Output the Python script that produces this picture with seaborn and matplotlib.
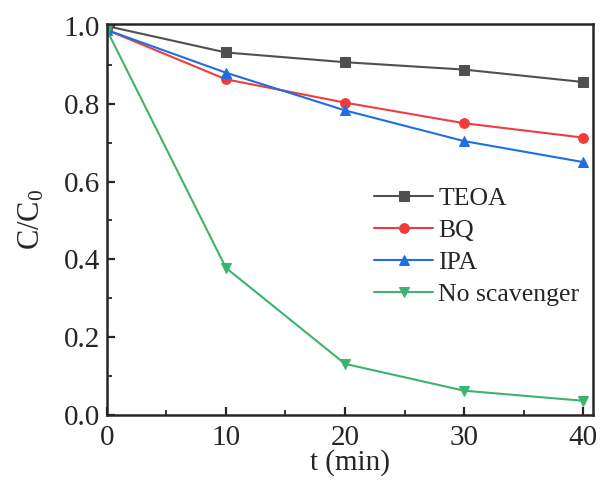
import matplotlib
matplotlib.use("Agg")
import matplotlib.pyplot as plt
import seaborn as sns
import pandas as pd
from matplotlib.ticker import MultipleLocator

t = [0, 10, 20, 30, 40]
teoa = [1.0, 0.932, 0.907, 0.888, 0.856]
bq = [0.99, 0.863, 0.803, 0.750, 0.713]
ipa = [0.99, 0.880, 0.783, 0.704, 0.650]
noscav = [0.99, 0.378, 0.131, 0.062, 0.036]
labels = ["TEOA", "BQ", "IPA", "No scavenger"]
colors = ["#505050", "#f03c3c", "#1f6fe0", "#3cb371"]
markers = ["s", "o", "^", "v"]

sns.set_style("ticks")
plt.rcParams["font.family"] = ["Liberation Serif", "DejaVu Serif"]
plt.rcParams["mathtext.fontset"] = "custom"
plt.rcParams["mathtext.rm"] = "Liberation Serif"
plt.rcParams["mathtext.it"] = "Liberation Serif:italic"

rows = []
for lab, vals in zip(labels, [teoa, bq, ipa, noscav]):
    for x, y in zip(t, vals):
        rows.append({"t": x, "c": y, "series": lab})
df = pd.DataFrame(rows)

fig = plt.figure(figsize=(6.0, 4.84), dpi=100)
ax = fig.add_axes([0.178, 0.143, 0.81, 0.808])
for lab, col, mk in zip(labels, colors, markers):
    d = df[df.series == lab]
    sns.lineplot(data=d, x="t", y="c", ax=ax, color=col, marker=mk, markersize=7,
                 markeredgecolor=col, linewidth=1.5, label=lab)

ax.set_xlim(0, 40.8)
ax.set_ylim(0, 1.006)
ax.xaxis.set_major_locator(MultipleLocator(10))
ax.xaxis.set_minor_locator(MultipleLocator(5))
ax.yaxis.set_major_locator(MultipleLocator(0.2))
ax.yaxis.set_minor_locator(MultipleLocator(0.1))
ax.yaxis.set_major_formatter(matplotlib.ticker.FormatStrFormatter("%.1f"))
ax.tick_params(which="major", direction="in", length=6, width=1.6, labelsize=21)
ax.tick_params(axis="x", which="major", pad=7)
ax.tick_params(axis="y", which="major", pad=5)
ax.tick_params(which="minor", direction="in", length=3.5, width=1.3)
for s in ax.spines.values():
    s.set_linewidth(1.8)
    s.set_visible(True)
ax.set_xlabel("t (min)", fontsize=21, labelpad=-1)
ax.set_ylabel("C/C$_0$", fontsize=22, labelpad=12)
leg = ax.legend(loc="center left", bbox_to_anchor=(0.55, 0.43), frameon=False,
                fontsize=18.5, handlelength=2.3, labelspacing=0.35, handletextpad=0.2,
                borderpad=0, borderaxespad=0)
fig.savefig("out.png", dpi=100)
